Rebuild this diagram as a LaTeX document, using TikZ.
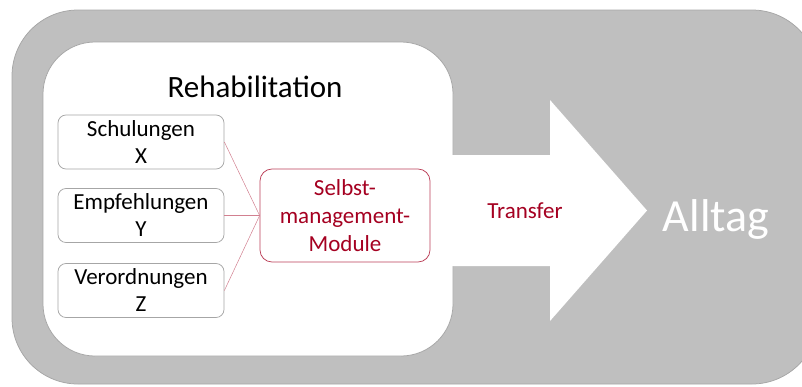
\documentclass[tikz,border=0pt]{standalone}
\usepackage{fontspec}
\setmainfont{Carlito}
\definecolor{rehared}{HTML}{A50021}
\definecolor{alltaggrey}{HTML}{BFBFBF}
\definecolor{edgegrey}{HTML}{A6A6A6}
\begin{document}
\begin{tikzpicture}[x=1pt,y=-1pt,
	item node/.style={draw=edgegrey,line width=0.75pt,fill=white,rounded corners=8pt,minimum width=166pt,minimum height=54pt,inner sep=0pt,align=center,font=\fontsize{23}{27}\selectfont},
	modul node/.style={draw=rehared!75,line width=0.75pt,fill=white,rounded corners=12pt,minimum width=170pt,minimum height=93pt,inner sep=0pt,align=center,text=rehared,font=\fontsize{23}{28}\selectfont},
	link/.style={rehared!50,line width=0.5pt}]
	\useasboundingbox (0,0) rectangle (802,386);
	\clip (0,0) rectangle (802,386);
	
	% Alltag (outside) and the rehab frame with its transfer arrow
	\draw[edgegrey,line width=0.75pt,fill=alltaggrey,rounded corners=66pt] (12,10) rectangle (818,384);
	\draw[edgegrey,line width=0.75pt,fill=white,rounded corners=52pt] (43,42) rectangle (453,356);
	\fill[white] (445,155) -- (550,155) -- (550,100) -- (647,210.5) -- (550,321) -- (550,266) -- (445,266) -- cycle;
	
	\node[font=\fontsize{31}{37}\selectfont,anchor=base] (reha) at (255,97) {Rehabilitation};
	\node[item node] at (141,142) (schulungen) {Schulungen\\X};
	\node[item node] at (141,215.5) (empfehlungen) {Empfehlungen\\Y};
	\node[item node] at (141,290.5) (verordnungen) {Verordnungen\\Z};
	\node[modul node] at (345,215.5) (modul) {Selbst-\\management-\\Module};
	\node[text=rehared,font=\fontsize{23}{27}\selectfont,anchor=base] at (525,218) (transfer) {Transfer};
	\node[text=white,font=\fontsize{46}{55}\selectfont,anchor=base] at (716,231) (alltag) {Alltag};
	
	\foreach \n in {schulungen,empfehlungen,verordnungen}{
		\draw[link] (\n.east) -- (modul.west);
	}
	
\end{tikzpicture}
\end{document}
